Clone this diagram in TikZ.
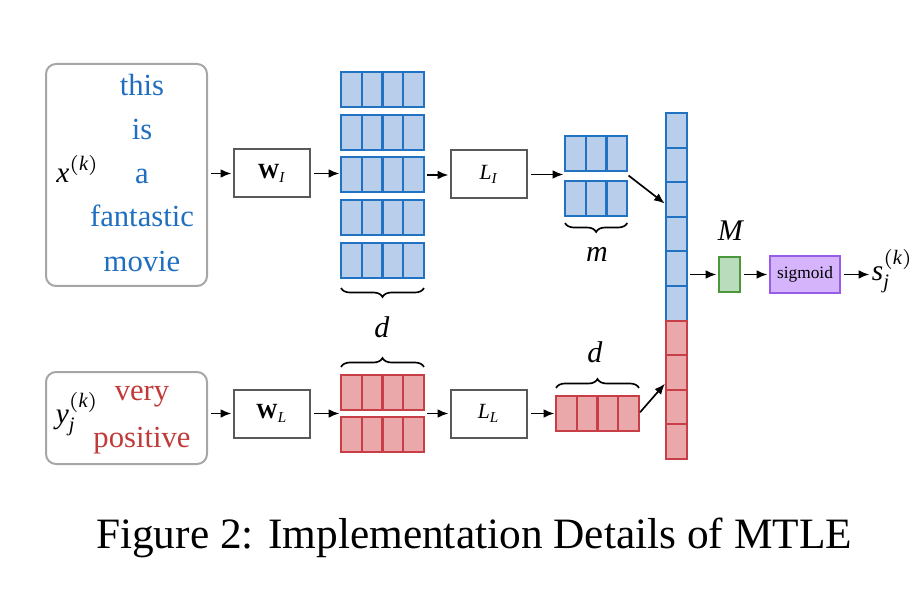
\documentclass[tikz,border=0pt]{standalone}
\usepackage{amsmath}
\usepackage{fontspec}
\setmainfont{Liberation Serif}
\usetikzlibrary{arrows.meta,decorations.pathreplacing}

\definecolor{cellblue}{RGB}{184,206,234}
\definecolor{edgeblue}{RGB}{34,114,195}
\definecolor{cellred}{RGB}{234,168,170}
\definecolor{edgered}{RGB}{200,62,70}
\definecolor{cellgreen}{RGB}{184,220,188}
\definecolor{edgegreen}{RGB}{76,150,60}
\definecolor{cellpurple}{RGB}{214,180,252}
\definecolor{edgepurple}{RGB}{152,92,230}
\definecolor{wordblue}{RGB}{31,110,192}
\definecolor{wordred}{RGB}{192,58,58}

\tikzset{
  cell/.style={draw, line width=0.6pt, inner sep=0pt, outer sep=0pt, anchor=north west,
    minimum width=6.22pt, minimum height=10.5pt},
  bluecell/.style={cell, draw=edgeblue, fill=cellblue},
  redcell/.style={cell, draw=edgered, fill=cellred},
  opbox/.style={draw=black!65, line width=0.6pt, minimum width=22.8pt, minimum height=14.4pt,
    inner sep=0pt, font=\fontsize{6.5pt}{8pt}\selectfont},
  inbox/.style={draw=black!35, line width=0.6pt, rounded corners=3pt, minimum width=48.3pt, inner sep=0pt},
  word/.style={anchor=base, inner sep=0pt, font=\fontsize{9.2pt}{11pt}\selectfont},
  lbl/.style={anchor=base, inner sep=0pt, font=\fontsize{9pt}{11pt}\selectfont},
  var/.style={anchor=base, inner sep=0pt, font=\fontsize{8.8pt}{11pt}\selectfont},
  flow/.style={->, shorten <=1pt, shorten >=0.5pt},
  dimbrace/.style={decorate, decoration={brace, amplitude=2.7pt}, line width=0.5pt},
}

\begin{document}
\begin{tikzpicture}[x=0.3pt, y=-0.3pt, >={Latex[length=3.2pt,width=2.6pt]}, line width=0.5pt]
\useasboundingbox (0,0) rectangle (918,589);

% inputs
\node[inbox, minimum height=66.6pt] (xin) at (126.5,175) {};
\node[word, wordblue] (w1) at (142,96) {this};
\node[word, wordblue] (w2) at (142,140) {is};
\node[word, wordblue] (w3) at (142,184) {a};
\node[word, wordblue] (w4) at (142,227) {fantastic};
\node[word, wordblue] (w5) at (142,271) {movie};
\node[var] (xk) at (78,183) {$\mathit{x}^{(\mathit{k})}$};

\node[inbox, minimum height=27.6pt] (yin) at (126.5,418) {};
\node[word, wordred] (v1) at (142,400) {very};
\node[word, wordred] (v2) at (142,447) {positive};
\node[var] (yk) at (77.5,423) {$\mathit{y}_{\mathit{j}}^{(\mathit{k})}$};

% layers
\node[opbox] (wi) at (272,173.5) {$\mathbf{W}_{\mathit{I}}$};
\node[opbox] (wl) at (272,413.5) {$\mathbf{W}_{\mathit{L}}$};
\node[opbox] (li) at (489,174.5) {$\mathit{L}_{\mathit{I}}$};
\node[opbox] (ll) at (489,413.5) {$\mathit{L}_{\mathit{L}}$};

% embeddings
\foreach \r in {1,...,5}
  \foreach \c in {1,...,4}
    \node[bluecell] (xw-\r-\c) at ({341+20.75*(\c-1)},{72+42.75*(\r-1)}) {};
\foreach \r in {1,2}
  \foreach \c in {1,...,4}
    \node[redcell] (yw-\r-\c) at ({341+20.75*(\c-1)},{375+42*(\r-1)}) {};
\foreach \r in {1,2}
  \foreach \c in {1,2,3}
    \node[bluecell] (xm-\r-\c) at ({565+20.75*(\c-1)},{136+45*(\r-1)}) {};
\foreach \c in {1,...,4}
  \node[redcell] (ym-\c) at ({556+20.75*(\c-1)},396) {};
\foreach \r in {1,...,6}
  \node[bluecell, minimum height=10.38pt] (col-\r) at (666,{113+34.6*(\r-1)}) {};
\foreach \r in {7,...,10}
  \node[redcell, minimum height=10.38pt] (col-\r) at (666,{113+34.6*(\r-1)}) {};

% output
\node[draw=edgegreen, fill=cellgreen, line width=0.6pt, minimum width=6.3pt, minimum height=10.5pt,
  inner sep=0pt] (mm) at (729.5,274.5) {};
\node[lbl] (ml) at (731,240) {\textit{M}};
\node[draw=edgepurple, fill=cellpurple, line width=0.6pt, minimum width=21pt, minimum height=11.1pt,
  inner sep=0pt, font=\fontsize{5.2pt}{6pt}\selectfont] (sig) at (805,274.5) {sigmoid};
\node[var, anchor=base west] (sk) at (871,280) {$\mathit{s}_{\mathit{j}}^{(\mathit{k})}$};

% sizes
\draw[dimbrace] ([yshift=-3pt]xw-5-4.south east) -- ([yshift=-3pt]xw-5-1.south west);
\draw[dimbrace] ([yshift=2.4pt]yw-1-1.north west) -- ([yshift=2.4pt]yw-1-4.north east);
\draw[dimbrace] ([yshift=-2.1pt]xm-2-3.south east) -- ([yshift=-2.1pt]xm-2-1.south west);
\draw[dimbrace] ([yshift=2.4pt]ym-1.north west) -- ([yshift=2.4pt]ym-4.north east);
\node[lbl] (dw) at (382,337) {\textit{d}};
\node[lbl] (mx) at (597,262) {\textit{m}};
\node[lbl] (dy) at (595,362) {\textit{d}};

% connectors
\draw[flow] (xin.east |- wi.west) -- (wi.west);
\draw[flow] (wi.east) -- (wi.east -| xw-3-1.west);
\draw[flow] (xw-3-4.east) -- (xw-3-4.east -| li.west);
\draw[flow] (li.east) -- (li.east -| xm-1-1.west);
\draw[flow, shorten <=0.5pt] (li.east -| xm-1-3.east) -- ([yshift=-1.5pt]col-3.west);
\draw[flow] (yin.east |- wl.west) -- (wl.west);
\draw[flow] (wl.east) -- (wl.east -| yw-1-1.west);
\draw[flow] (wl.east -| yw-1-4.east) -- (wl.east -| ll.west);
\draw[flow] (ll.east) -- (ll.east -| ym-1.west);
\draw[flow, shorten <=0.5pt] (ym-4.east) -- ([yshift=-3pt]col-8.west);
\draw[flow] (mm.west -| col-5.east) -- (mm.west);
\draw[flow] (mm) -- (sig);
\draw[flow] (sig) -- (sig.east -| sk.west);

\node[anchor=base, inner sep=0pt, font=\fontsize{13pt}{15pt}\selectfont] (cap) at (474,548)
  {Figure 2: Implementation Details of MTLE};
\end{tikzpicture}
\end{document}
